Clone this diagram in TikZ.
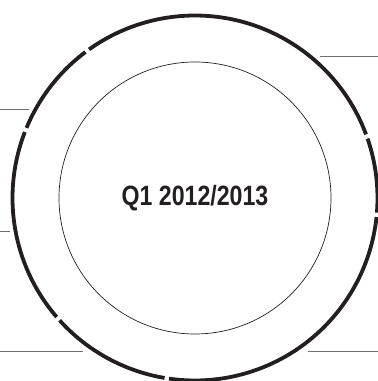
\documentclass[tikz,border=0pt]{standalone}
\usepackage{fontspec}
\setmainfont{Liberation Sans}
\definecolor{inchiostro}{HTML}{231F20}
\definecolor{filo}{HTML}{707070}
\begin{document}
\begin{tikzpicture}[x=1pt,y=1pt,
    anello/.style={line width=3.8pt,inchiostro},
    interno/.style={line width=0.7pt,inchiostro},
    filetto/.style={line width=0.9pt,filo}]
        \useasboundingbox (0,0) rectangle (378,381);
        \coordinate (C) at (195,183);
        \def\R{182.5}
        % anello esterno spezzato in sei archi
        \foreach \a/\b in {20.4/125.5, 126.9/157.4, 158.8/220.7, 222.1/260.4, 261.8/354, 355.4/379}
            \draw[anello] (C) ++(\a:\R) arc[start angle=\a, end angle=\b, radius=\R];
        \draw[interno] (C) circle (136);
        \node[inchiostro] (titolo) at (C)
            {\scalebox{0.83}[1]{\fontsize{27.9}{30}\selectfont\bfseries Q1 2012/2013}};
        % filetti orizzontali ai lati
        \coordinate (d1a) at (320,324.3); \coordinate (d1b) at (378,324.3);
        \coordinate (s1a) at (0,272);     \coordinate (s1b) at (29,272);
        \coordinate (s2a) at (0,149.3);   \coordinate (s2b) at (10,149.3);
        \coordinate (s3a) at (0,30);      \coordinate (s3b) at (83,30);
        \coordinate (d2a) at (308,30);    \coordinate (d2b) at (378,30);
        \foreach \p in {d1,s1,s2,s3,d2}
            \draw[filetto] (\p a) -- (\p b);
    \end{tikzpicture}
\end{document}
